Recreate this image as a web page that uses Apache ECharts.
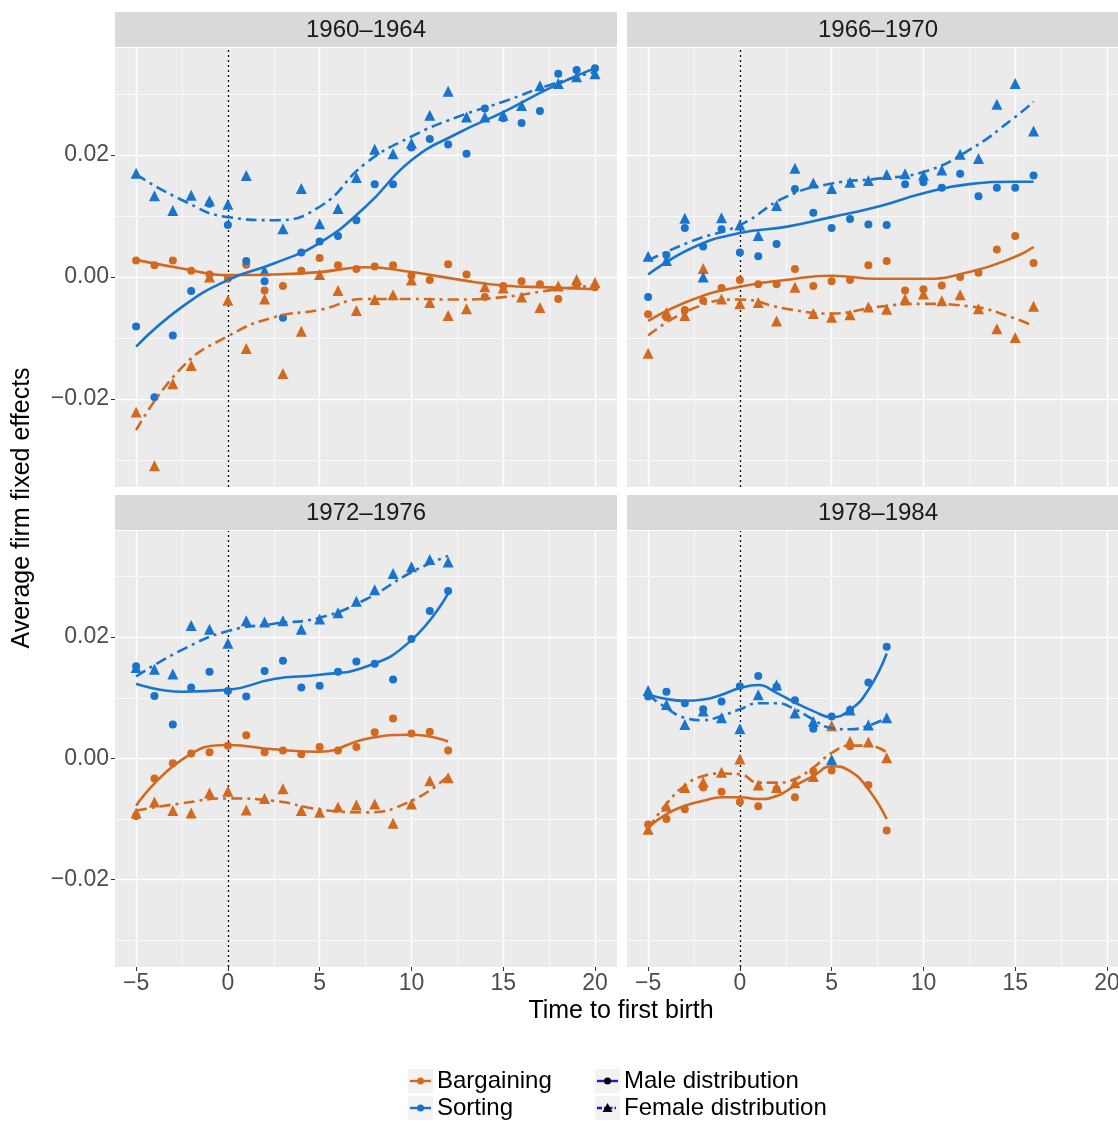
<!DOCTYPE html>
<html><head><meta charset="utf-8">
<script src="https://cdn.jsdelivr.net/npm/echarts@6/dist/echarts.min.js"></script>
<style>html,body{margin:0;padding:0;background:#fff;overflow:hidden}#c{width:1135px;height:1122px}</style>
</head><body><div id="c"></div>
<script>
// ---- data ----
const panelTitles = ['1960\u20131964','1966\u20131970','1972\u20131976','1978\u20131984'];
const xTicks = [-5,0,5,10,15,20];
const yTicks = [-0.02,0,0.02];

// Panel 1: 1960-1964, x = -5..20
const p1X = [-5,-4,-3,-2,-1,0,1,2,3,4,5,6,7,8,9,10,11,12,13,14,15,16,17,18,19,20];
const p1BargMale = [0.0027,0.0019,0.0027,0.0010,0.0004,-0.0003,0.0020,-0.0022,-0.0015,0.0010,0.0031,0.0019,0.0013,0.0017,0.0019,0.0002,-0.0005,0.0021,0.0004,-0.0033,-0.0015,-0.0007,-0.0012,-0.0036,-0.0014,-0.0017];
const p1BargFemale = [-0.0221,-0.0309,-0.0175,-0.0145,0.0000,-0.0038,-0.0117,-0.0036,-0.0158,-0.0089,0.0004,-0.0022,-0.0055,-0.0037,-0.0029,-0.0005,-0.0042,-0.0063,-0.0052,-0.0016,-0.0018,-0.0033,-0.0050,-0.0015,-0.0004,-0.0009];
const p1SortMale = [-0.0081,-0.0197,-0.0096,-0.0023,0.0120,0.0085,0.0026,-0.0007,-0.0067,0.0040,0.0058,0.0067,0.0093,0.0152,0.0152,0.0212,0.0226,0.0217,0.0202,0.0276,0.0260,0.0252,0.0272,0.0333,0.0339,0.0342];
const p1SortFemale = [0.0170,0.0133,0.0109,0.0134,0.0125,0.0119,0.0166,0.0010,0.0079,0.0145,0.0087,0.0112,0.0163,0.0209,0.0202,0.0219,0.0265,0.0304,0.0262,0.0262,0.0265,0.0281,0.0313,0.0317,0.0328,0.0333];
const p1CurveX = [-5,-2.5,0,2.5,5,7.5,10,12.5,15,17.5,20];
const p1FitBargMale = [0.0028,0.0014,0.0003,0.0004,0.0008,0.0016,0.0008,-0.0004,-0.0014,-0.0017,-0.0020];
const p1FitBargFemale = [-0.0251,-0.0148,-0.0097,-0.0066,-0.0054,-0.0036,-0.0036,-0.0037,-0.0033,-0.0022,-0.0014];
const p1FitSortMale = [-0.0114,-0.0049,-0.0005,0.0022,0.0056,0.0115,0.0191,0.0235,0.0270,0.0309,0.0342];
const p1FitSortFemale = [0.0168,0.0126,0.0098,0.0093,0.0115,0.0186,0.0230,0.0262,0.0287,0.0314,0.0336];

// Panel 2: 1966-1970, x = -5..16
const p2X = [-5,-4,-3,-2,-1,0,1,2,3,4,5,6,7,8,9,10,11,12,13,14,15,16];
const p2BargMale = [-0.0061,-0.0066,-0.0054,-0.0039,-0.0018,-0.0005,-0.0012,-0.0012,0.0013,-0.0015,-0.0007,-0.0005,0.0019,0.0026,-0.0022,-0.0020,-0.0014,0.0000,0.0007,0.0045,0.0067,0.0023];
const p2BargFemale = [-0.0125,-0.0058,-0.0063,0.0014,-0.0036,-0.0044,-0.0042,-0.0072,-0.0017,-0.0060,-0.0066,-0.0062,-0.0049,-0.0053,-0.0036,-0.0028,-0.0039,-0.0029,-0.0052,-0.0085,-0.0099,-0.0048];
const p2SortMale = [-0.0033,0.0036,0.0080,0.0050,0.0078,0.0040,0.0034,0.0054,0.0144,0.0105,0.0080,0.0095,0.0086,0.0085,0.0152,0.0155,0.0146,0.0169,0.0132,0.0146,0.0146,0.0166];
const p2SortFemale = [0.0034,0.0027,0.0096,0.0000,0.0097,0.0085,0.0068,0.0117,0.0178,0.0154,0.0145,0.0155,0.0158,0.0168,0.0169,0.0167,0.0175,0.0201,0.0194,0.0283,0.0317,0.0239];
const p2CurveX = [-5,-2.5,0,2.5,5,7.5,10,12.5,15,16];
const p2FitBargMale = [-0.0072,-0.0036,-0.0016,-0.0005,0.0002,-0.0003,-0.0003,0.0008,0.0033,0.0049];
const p2FitBargFemale = [-0.0096,-0.0051,-0.0037,-0.0052,-0.0060,-0.0049,-0.0044,-0.0048,-0.0068,-0.0081];
const p2FitSortMale = [0.0004,0.0049,0.0072,0.0082,0.0098,0.0115,0.0137,0.0152,0.0156,0.0156];
const p2FitSortFemale = [0.0027,0.0060,0.0085,0.0131,0.0153,0.0161,0.0172,0.0208,0.0262,0.0287];

// Panel 3: 1972-1976, x = -5..12
const p3X = [-5,-4,-3,-2,-1,0,1,2,3,4,5,6,7,8,9,10,11,12];
const p3BargMale = [-0.0095,-0.0033,-0.0008,0.0008,0.0010,0.0021,0.0038,0.0010,0.0013,0.0007,0.0019,0.0013,0.0019,0.0043,0.0066,0.0041,0.0044,0.0013];
const p3BargFemale = [-0.0090,-0.0072,-0.0086,-0.0090,-0.0057,-0.0054,-0.0085,-0.0066,-0.0050,-0.0086,-0.0089,-0.0080,-0.0077,-0.0075,-0.0107,-0.0075,-0.0037,-0.0032];
const p3SortMale = [0.0152,0.0103,0.0056,0.0117,0.0143,0.0111,0.0102,0.0144,0.0161,0.0117,0.0120,0.0143,0.0160,0.0156,0.0130,0.0197,0.0243,0.0276];
const p3SortFemale = [0.0150,0.0147,0.0139,0.0219,0.0213,0.0190,0.0227,0.0225,0.0227,0.0213,0.0230,0.0240,0.0259,0.0278,0.0305,0.0316,0.0328,0.0324];
const p3CurveX = [-5,-2.5,0,2.5,5,7.5,10,12];
const p3FitBargMale = [-0.0078,-0.0002,0.0022,0.0015,0.0011,0.0032,0.0039,0.0028];
const p3FitBargFemale = [-0.0086,-0.0074,-0.0066,-0.0070,-0.0084,-0.0089,-0.0070,-0.0029];
const p3FitSortMale = [0.0123,0.0110,0.0113,0.0131,0.0138,0.0151,0.0195,0.0272];
const p3FitSortFemale = [0.0135,0.0179,0.0210,0.0222,0.0232,0.0262,0.0307,0.0334];

// Panel 4: 1978-1984, x = -5..8
const p4X = [-5,-4,-3,-2,-1,0,1,2,3,4,5,6,7,8];
const p4BargMale = [-0.0109,-0.0100,-0.0084,-0.0048,-0.0055,-0.0072,-0.0079,-0.0051,-0.0064,-0.0021,-0.0020,0.0020,-0.0044,-0.0119];
const p4BargFemale = [-0.0117,-0.0079,-0.0048,-0.0039,-0.0023,-0.0001,-0.0044,-0.0048,-0.0040,-0.0030,0.0054,0.0028,0.0027,0.0001];
const p4SortMale = [0.0102,0.0110,0.0091,0.0081,0.0094,0.0119,0.0136,0.0118,0.0096,0.0049,0.0069,0.0080,0.0125,0.0184];
const p4SortFemale = [0.0112,0.0089,0.0056,0.0078,0.0067,0.0049,0.0105,0.0121,0.0075,0.0061,-0.0002,0.0080,0.0055,0.0067];
const p4CurveX = [-5,-4,-3,-2,-1,0,1,2,3,4,5,6,7,8];
const p4FitBargMale = [-0.0114,-0.0092,-0.0078,-0.0070,-0.0064,-0.0064,-0.0067,-0.0062,-0.0045,-0.0029,-0.0013,-0.0021,-0.0051,-0.0100];
const p4FitBargFemale = [-0.0116,-0.0075,-0.0045,-0.0029,-0.0025,-0.0026,-0.0040,-0.0040,-0.0034,-0.0015,0.0009,0.0021,0.0021,0.0010];
const p4FitSortMale = [0.0105,0.0098,0.0095,0.0097,0.0105,0.0116,0.0121,0.0108,0.0092,0.0078,0.0068,0.0080,0.0113,0.0173];
const p4FitSortFemale = [0.0105,0.0083,0.0067,0.0063,0.0070,0.0081,0.0091,0.0091,0.0081,0.0064,0.0050,0.0048,0.0054,0.0067];

// ---- build ----
const ORANGE = '#D2691E', BLUE = '#1874CD';
const panels = [
  {x:p1X, bm:p1BargMale, bf:p1BargFemale, sm:p1SortMale, sf:p1SortFemale, cx:p1CurveX, fbm:p1FitBargMale, fbf:p1FitBargFemale, fsm:p1FitSortMale, fsf:p1FitSortFemale},
  {x:p2X, bm:p2BargMale, bf:p2BargFemale, sm:p2SortMale, sf:p2SortFemale, cx:p2CurveX, fbm:p2FitBargMale, fbf:p2FitBargFemale, fsm:p2FitSortMale, fsf:p2FitSortFemale},
  {x:p3X, bm:p3BargMale, bf:p3BargFemale, sm:p3SortMale, sf:p3SortFemale, cx:p3CurveX, fbm:p3FitBargMale, fbf:p3FitBargFemale, fsm:p3FitSortMale, fsf:p3FitSortFemale},
  {x:p4X, bm:p4BargMale, bf:p4BargFemale, sm:p4SortMale, sf:p4SortFemale, cx:p4CurveX, fbm:p4FitBargMale, fbf:p4FitBargFemale, fsm:p4FitSortMale, fsf:p4FitSortFemale}
];
const boxes = [
  {left:115, top:48, w:502, h:439},
  {left:627, top:48, w:502, h:439},
  {left:115, top:531, w:502, h:436},
  {left:627, top:531, w:502, h:436}
];
const XMIN=-6.15, XMAX=21.2, YMIN=-0.0344, YMAX=0.0375;
const grids=[], xAxes=[], yAxes=[], series=[], graphics=[];
const pair=(xs,ys)=>xs.map((v,i)=>[v,ys[i]]);
const DASH=[11,5,3,5];
const FONT='"Liberation Sans"';
panels.forEach((p,i)=>{
  const b=boxes[i];
  grids.push({left:b.left, top:b.top, width:b.w, height:b.h, backgroundColor:'#EBEBEB', show:true, borderWidth:0});
  xAxes.push({gridIndex:i, type:'value', min:XMIN, max:XMAX, position:'bottom',
    splitLine:{show:false}, axisLine:{show:false, onZero:false},
    axisTick:{show:i>=2, customValues:xTicks, length:4, lineStyle:{color:'#333'}},
    axisLabel:{show:i>=2, customValues:xTicks, fontSize:23, color:'#4D4D4D', fontFamily:'Liberation Sans', margin:5,
      formatter:v=>String(v).replace('-','\u2212')}});
  yAxes.push({gridIndex:i, type:'value', min:YMIN, max:YMAX, position:'left',
    splitLine:{show:false}, axisLine:{show:false, onZero:false},
    axisTick:{show:i%2===0, customValues:yTicks, length:4, lineStyle:{color:'#333'}},
    axisLabel:{show:i%2===0, customValues:yTicks, fontSize:23, color:'#4D4D4D', fontFamily:'Liberation Sans', margin:6,
      formatter:v=>v===0?'0.00':(v<0?'\u2212':'')+Math.abs(v).toFixed(2)}});
  const ml=[];
  [-0.03,-0.01,0.01,0.03].forEach(v=>ml.push({yAxis:v, lineStyle:{width:0.7}}));
  [-0.02,0,0.02].forEach(v=>ml.push({yAxis:v, lineStyle:{width:1.4}}));
  [-2.5,2.5,7.5,12.5,17.5].forEach(v=>ml.push({xAxis:v, lineStyle:{width:0.7}}));
  [-5,0,5,10,15,20].forEach(v=>ml.push({xAxis:v, lineStyle:{width:1.4}}));
  series.push({type:'line', xAxisIndex:i, yAxisIndex:i, data:[], silent:true, z:0,
    markLine:{silent:true, z:0, symbol:'none', label:{show:false}, animation:false, lineStyle:{color:'#fff', type:'solid'}, data:ml}});
  series.push({type:'line', xAxisIndex:i, yAxisIndex:i, data:[], silent:true, z:1,
    markLine:{silent:true, z:1, symbol:'none', label:{show:false}, animation:false, lineStyle:{color:'#000', type:[2,3], width:1.3}, data:[{xAxis:0}]}});
  const sc=(d,c,sym,sz)=>({type:'scatter', xAxisIndex:i, yAxisIndex:i, data:pair(p.x,d), symbol:sym, symbolSize:sz, itemStyle:{color:c, opacity:1}, z:6});
  series.push(sc(p.bm,ORANGE,'circle',8), sc(p.bf,ORANGE,'triangle',11), sc(p.sm,BLUE,'circle',8), sc(p.sf,BLUE,'triangle',11));
  const ln=(d,c,dash)=>({type:'line', xAxisIndex:i, yAxisIndex:i, data:pair(p.cx,d), smooth:0.5, symbol:'none', z:7,
    lineStyle:{color:c, width:2.6, type:dash?DASH:'solid', cap:'butt'}});
  series.push(ln(p.fbm,ORANGE,false), ln(p.fbf,ORANGE,true), ln(p.fsm,BLUE,false), ln(p.fsf,BLUE,true));
  const stripTop = i<2 ? 12 : 495;
  graphics.push({type:'rect', shape:{x:b.left, y:stripTop, width:b.w, height:35}, style:{fill:'#D9D9D9'}});
  graphics.push({type:'text', x:b.left + 251, y:stripTop+18, style:{text:panelTitles[i], font:'24px '+FONT, fill:'#1A1A1A', align:'center', verticalAlign:'middle'}});
});
// axis titles
graphics.push({type:'text', x:621, y:1011, style:{text:'Time to first birth', font:'25px '+FONT, fill:'#000', align:'center', verticalAlign:'middle'}});
graphics.push({type:'text', x:22, y:508, rotation:Math.PI/2, style:{text:'Average firm fixed effects', font:'25px '+FONT, fill:'#000', align:'center', verticalAlign:'middle'}});
// legend
function key(x,y,color,dash){
  graphics.push({type:'rect', shape:{x:x, y:y-12, width:25, height:24}, style:{fill:'#F2F2F2'}});
  graphics.push({type:'line', shape:{x1:x+2, y1:y, x2:x+23, y2:y}, style:{stroke:color, lineWidth:2.4, lineDash:dash?[5,2,1.5,2]:null}});
}
const legendItems=[
  {x:408,y:1081,c:ORANGE,d:false,t:'Bargaining',sym:'circle'},
  {x:408,y:1108,c:BLUE,d:false,t:'Sorting',sym:'circle'},
  {x:595,y:1081,c:'#1A1AE6',d:false,t:'Male distribution',sym:'circle'},
  {x:595,y:1108,c:'#1A1AE6',d:true,t:'Female distribution',sym:'tri'}
];
legendItems.forEach(it=>{
  key(it.x,it.y,it.c,it.d);
  const mc = it.x>500 ? '#000' : it.c;
  if(it.sym==='circle') graphics.push({type:'circle', shape:{cx:it.x+12.5, cy:it.y, r:3.5}, style:{fill:mc}});
  else graphics.push({type:'polygon', shape:{points:[[it.x+12.5,it.y-5],[it.x+7.5,it.y+4],[it.x+17.5,it.y+4]]}, style:{fill:mc}});
  graphics.push({type:'text', x:it.x+29, y:it.y, style:{text:it.t, font:'24px '+FONT, fill:'#000', verticalAlign:'middle'}});
});
const chart=echarts.init(document.getElementById('c'));
chart.setOption({animation:false, grid:grids, xAxis:xAxes, yAxis:yAxes, series:series, graphic:graphics});
</script></body></html>
